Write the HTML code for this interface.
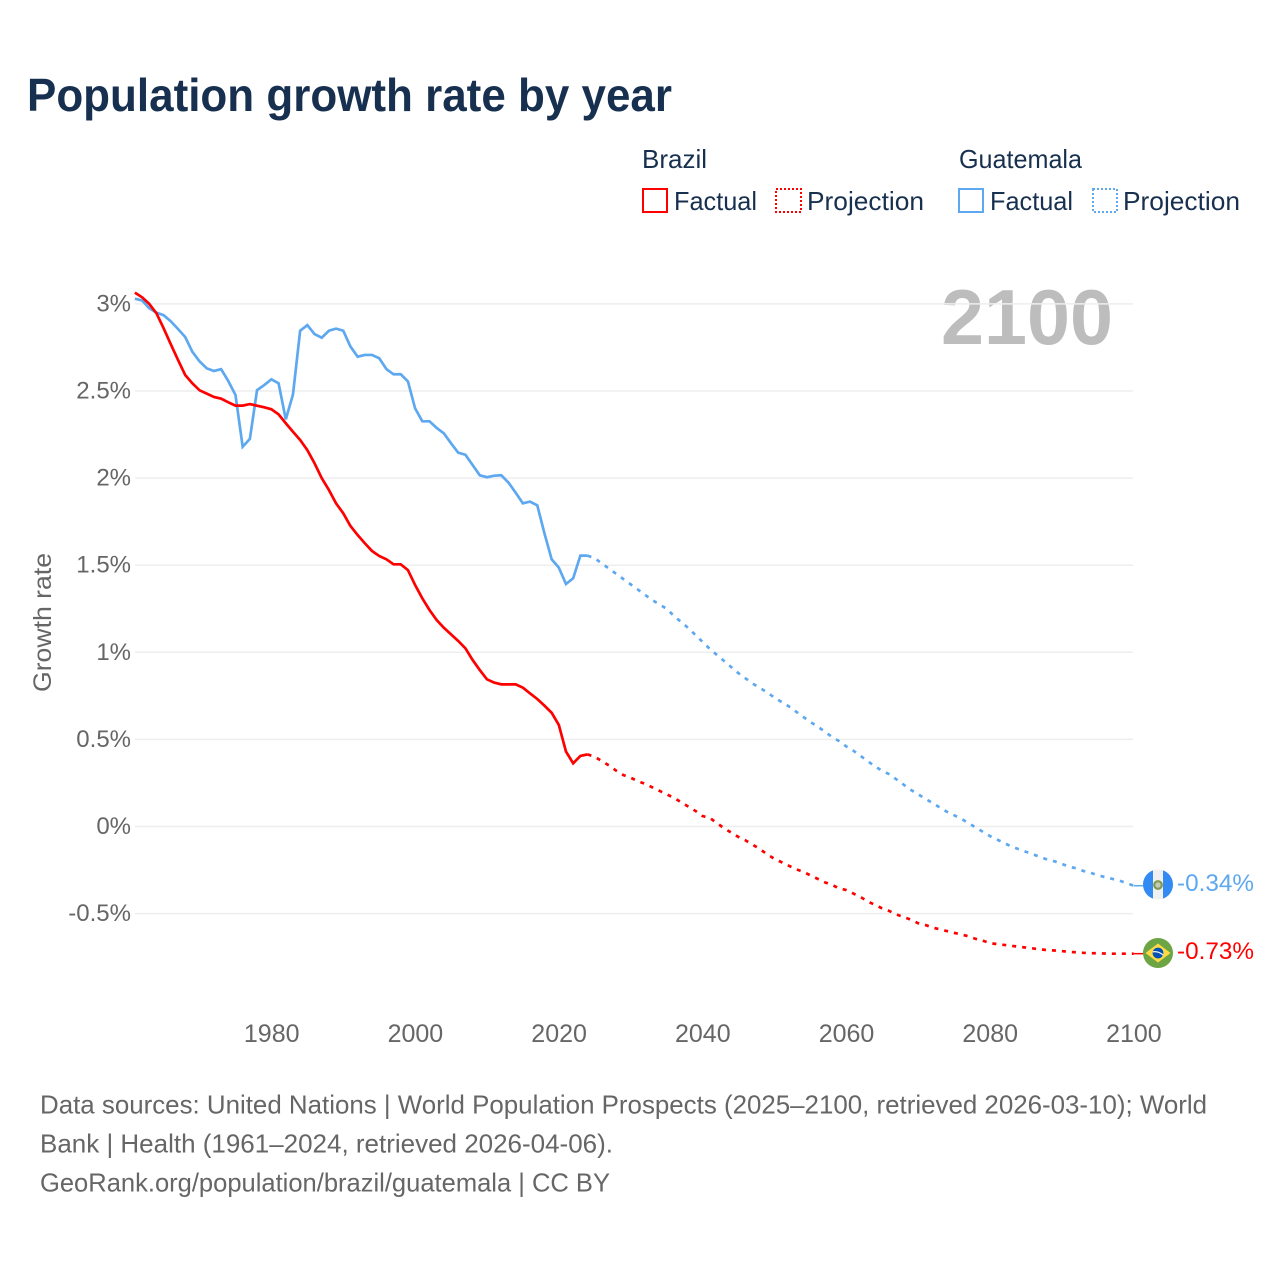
<!DOCTYPE html>
<html lang="en">
<head>
<meta charset="utf-8">
<title>Population growth rate by year</title>
<style>
  html, body { margin: 0; padding: 0; background: #fff; }
  svg { display: block; font-family: "Liberation Sans", sans-serif; }
</style>
</head>
<body>
<svg id="chart" width="1280" height="1280" viewBox="0 0 1280 1280" xmlns="http://www.w3.org/2000/svg">
  <defs>
    <clipPath id="clip-gt"><circle cx="1158" cy="884.5" r="15"/></clipPath>
    <clipPath id="clip-br"><circle cx="1158" cy="953" r="15"/></clipPath>
  </defs>
  <rect width="1280" height="1280" fill="#fff"/>
  <text x="27" y="111" font-size="46" font-weight="700" fill="#18304f" textLength="645" lengthAdjust="spacingAndGlyphs">Population growth rate by year</text>

  <g font-size="26" fill="#18304f">
    <text x="642" y="168" textLength="65" lengthAdjust="spacingAndGlyphs">Brazil</text>
    <text x="959" y="168" textLength="123" lengthAdjust="spacingAndGlyphs">Guatemala</text>
    <rect x="643" y="189" width="24" height="23" fill="none" stroke="#ff0000" stroke-width="2"/>
    <text x="674" y="210" textLength="83" lengthAdjust="spacingAndGlyphs">Factual</text>
    <rect x="776" y="189" width="25" height="23" fill="none" stroke="#ff0000" stroke-width="2" stroke-dasharray="2 2"/>
    <text x="807" y="210" textLength="117" lengthAdjust="spacingAndGlyphs">Projection</text>
    <rect x="959" y="189" width="24" height="23" fill="none" stroke="#5ea8f0" stroke-width="2"/>
    <text x="990" y="210" textLength="83" lengthAdjust="spacingAndGlyphs">Factual</text>
    <rect x="1093" y="189" width="24" height="23" fill="none" stroke="#5ea8f0" stroke-width="2" stroke-dasharray="2 2"/>
    <text x="1123" y="210" textLength="117" lengthAdjust="spacingAndGlyphs">Projection</text>
  </g>

  <text x="941" y="344" font-size="78" font-weight="700" fill="#bdbdbd" textLength="172" lengthAdjust="spacingAndGlyphs">2100</text>
  <text transform="translate(51 692) rotate(-90)" font-size="25" fill="#666" textLength="139" lengthAdjust="spacingAndGlyphs">Growth rate</text>

  <g id="grid"></g>
  <g id="yticks"></g>
  <g id="xticks"></g>
  <g id="series"></g>

  <g clip-path="url(#clip-gt)">
    <rect x="1143" y="869" width="30" height="31" fill="#f0f0f0"/>
    <rect x="1143" y="869" width="10" height="31" fill="#338af3"/>
    <rect x="1163" y="869" width="10" height="31" fill="#338af3"/>
    <circle cx="1158" cy="885" r="3.8" fill="#c9c9b8" stroke="#7f9a4f" stroke-width="2.2"/>
  </g>
  <g clip-path="url(#clip-br)">
    <rect x="1143" y="938" width="30" height="30" fill="#6da544"/>
    <polygon points="1158,943.5 1170.5,953 1158,962.5 1145.5,953" fill="#ffda44"/>
    <circle cx="1158" cy="953" r="5.4" fill="#0052b4"/>
    <path d="M1152.8 951.8 Q1158 950.8 1163.2 955" fill="none" stroke="#f0f0f0" stroke-width="1.3"/>
  </g>
  <text x="1177" y="891" font-size="24.5" fill="#5ea8f0" textLength="77" lengthAdjust="spacingAndGlyphs">-0.34%</text>
  <text x="1177" y="959" font-size="24.5" fill="#ff0000" textLength="77" lengthAdjust="spacingAndGlyphs">-0.73%</text>

  <g font-size="26" fill="#666">
    <text x="40" y="1113.5" textLength="1167" lengthAdjust="spacingAndGlyphs">Data sources: United Nations | World Population Prospects (2025–2100, retrieved 2026-03-10); World</text>
    <text x="40" y="1152.5" textLength="573" lengthAdjust="spacingAndGlyphs">Bank | Health (1961–2024, retrieved 2026-04-06).</text>
    <text x="40" y="1191.5" textLength="570" lengthAdjust="spacingAndGlyphs">GeoRank.org/population/brazil/guatemala | CC BY</text>
  </g>
</svg>
<script>
var factualStartYear = 1961;
var projectionStartYear = 2024;
var yTickValues = [3, 2.5, 2, 1.5, 1, 0.5, 0, -0.5];
var yTickLabels = ["3%", "2.5%", "2%", "1.5%", "1%", "0.5%", "0%", "-0.5%"];
var xTickValues = [1980, 2000, 2020, 2040, 2060, 2080, 2100];
var xTickLabels = ["1980", "2000", "2020", "2040", "2060", "2080", "2100"];

var brazilFactual = [3.065,3.038,3.0,2.946,2.86,2.768,2.678,2.592,2.544,2.504,2.485,2.466,2.456,2.435,2.416,2.416,2.425,2.416,2.406,2.395,2.366,2.315,2.266,2.219,2.161,2.085,2.0,1.932,1.855,1.798,1.725,1.673,1.626,1.582,1.553,1.534,1.505,1.505,1.472,1.386,1.31,1.243,1.185,1.141,1.103,1.065,1.023,0.956,0.898,0.845,0.826,0.816,0.816,0.816,0.797,0.764,0.732,0.694,0.653,0.583,0.43,0.363,0.405,0.414];
var brazilProjection = [0.414,0.40,0.375,0.35,0.32,0.295,0.28,0.26,0.245,0.225,0.205,0.185,0.165,0.14,0.115,0.09,0.06,0.05,0.02,-0.01,-0.035,-0.06,-0.08,-0.105,-0.13,-0.16,-0.185,-0.205,-0.225,-0.245,-0.26,-0.28,-0.30,-0.32,-0.335,-0.355,-0.365,-0.385,-0.405,-0.43,-0.45,-0.47,-0.485,-0.505,-0.52,-0.535,-0.555,-0.565,-0.58,-0.59,-0.60,-0.61,-0.62,-0.63,-0.645,-0.655,-0.67,-0.675,-0.68,-0.685,-0.69,-0.695,-0.70,-0.705,-0.71,-0.712,-0.715,-0.72,-0.722,-0.725,-0.727,-0.728,-0.729,-0.73,-0.73,-0.73,-0.73];
var guatemalaFactual = [3.03,3.02,2.975,2.95,2.935,2.90,2.856,2.81,2.725,2.67,2.63,2.615,2.625,2.557,2.477,2.18,2.225,2.505,2.534,2.567,2.544,2.337,2.48,2.846,2.878,2.827,2.806,2.846,2.858,2.846,2.755,2.697,2.707,2.707,2.688,2.626,2.596,2.596,2.555,2.40,2.326,2.326,2.288,2.257,2.2,2.146,2.134,2.075,2.016,2.005,2.014,2.016,1.974,1.916,1.855,1.865,1.844,1.683,1.534,1.486,1.392,1.425,1.555,1.555];
var guatemalaProjection = [1.555,1.54,1.51,1.48,1.45,1.42,1.39,1.36,1.33,1.30,1.275,1.25,1.21,1.175,1.14,1.10,1.06,1.02,0.985,0.95,0.915,0.88,0.85,0.82,0.795,0.77,0.74,0.715,0.69,0.66,0.63,0.60,0.575,0.545,0.515,0.49,0.46,0.435,0.405,0.375,0.345,0.32,0.30,0.27,0.24,0.21,0.185,0.16,0.135,0.11,0.085,0.065,0.045,0.02,-0.005,-0.03,-0.055,-0.075,-0.095,-0.115,-0.13,-0.145,-0.16,-0.175,-0.19,-0.20,-0.215,-0.23,-0.24,-0.255,-0.265,-0.28,-0.29,-0.30,-0.31,-0.325,-0.34];

var SVG_NS = "http://www.w3.org/2000/svg";
function xScale(year) { return 134.9 + (year - 1961) * 7.185; }
function yScale(value) { return 826.5 - value * 174.2; }
function make(tag, parent) {
  var el = document.createElementNS(SVG_NS, tag);
  parent.appendChild(el);
  return el;
}
function pointsFor(values, startYear) {
  return values.map(function (v, i) {
    return xScale(startYear + i).toFixed(2) + "," + yScale(v).toFixed(2);
  }).join(" ");
}

var gridGroup = document.getElementById("grid");
var yGroup = document.getElementById("yticks");
var xGroup = document.getElementById("xticks");
var seriesGroup = document.getElementById("series");

yTickValues.forEach(function (v, i) {
  var line = make("line", gridGroup);
  
  
  line.setAttribute("x1", 135);
  line.setAttribute("x2", 1133);
  line.setAttribute("y1", yScale(v));
  line.setAttribute("y2", yScale(v));
  line.setAttribute("stroke", "#eeeeee");
  line.setAttribute("stroke-width", 1.5);
  var label = make("text", yGroup);
  
  
  label.setAttribute("x", 131);
  label.setAttribute("y", yScale(v) + 7.5);
  label.setAttribute("text-anchor", "end");
  label.setAttribute("font-size", 24);
  label.setAttribute("fill", "#666");
  label.textContent = yTickLabels[i];
});

xTickValues.forEach(function (v, i) {
  var label = make("text", xGroup);
  
  
  label.setAttribute("x", xScale(v) + 0.3);
  label.setAttribute("y", 1042);
  label.setAttribute("text-anchor", "middle");
  label.setAttribute("font-size", 25);
  label.setAttribute("fill", "#666");
  label.textContent = xTickLabels[i];
});

var guatemalaProjectionLine = make("polyline", seriesGroup);


guatemalaProjectionLine.setAttribute("points", pointsFor(guatemalaProjection, projectionStartYear));
guatemalaProjectionLine.setAttribute("fill", "none");
guatemalaProjectionLine.setAttribute("stroke", "#5ea8f0");
guatemalaProjectionLine.setAttribute("stroke-width", 2.7);
guatemalaProjectionLine.setAttribute("stroke-dasharray", "4 6");

var brazilProjectionLine = make("polyline", seriesGroup);


brazilProjectionLine.setAttribute("points", pointsFor(brazilProjection, projectionStartYear));
brazilProjectionLine.setAttribute("fill", "none");
brazilProjectionLine.setAttribute("stroke", "#ff0000");
brazilProjectionLine.setAttribute("stroke-width", 2.7);
brazilProjectionLine.setAttribute("stroke-dasharray", "4 6");

var guatemalaFactualLine = make("polyline", seriesGroup);


guatemalaFactualLine.setAttribute("points", pointsFor(guatemalaFactual, factualStartYear));
guatemalaFactualLine.setAttribute("fill", "none");
guatemalaFactualLine.setAttribute("stroke", "#5ea8f0");
guatemalaFactualLine.setAttribute("stroke-width", 2.7);

var brazilFactualLine = make("polyline", seriesGroup);


brazilFactualLine.setAttribute("points", pointsFor(brazilFactual, factualStartYear));
brazilFactualLine.setAttribute("fill", "none");
brazilFactualLine.setAttribute("stroke", "#ff0000");
brazilFactualLine.setAttribute("stroke-width", 2.7);

var guatemalaConnector = make("line", seriesGroup);


guatemalaConnector.setAttribute("x1", xScale(2100));
guatemalaConnector.setAttribute("x2", 1144);
guatemalaConnector.setAttribute("y1", yScale(guatemalaProjection[guatemalaProjection.length - 1]));
guatemalaConnector.setAttribute("y2", yScale(guatemalaProjection[guatemalaProjection.length - 1]));
guatemalaConnector.setAttribute("stroke", "#5ea8f0");
guatemalaConnector.setAttribute("stroke-width", 1.5);

var brazilConnector = make("line", seriesGroup);


brazilConnector.setAttribute("x1", xScale(2100));
brazilConnector.setAttribute("x2", 1144);
brazilConnector.setAttribute("y1", yScale(brazilProjection[brazilProjection.length - 1]));
brazilConnector.setAttribute("y2", yScale(brazilProjection[brazilProjection.length - 1]));
brazilConnector.setAttribute("stroke", "#ff0000");
brazilConnector.setAttribute("stroke-width", 1.5);
</script>
</body>
</html>
